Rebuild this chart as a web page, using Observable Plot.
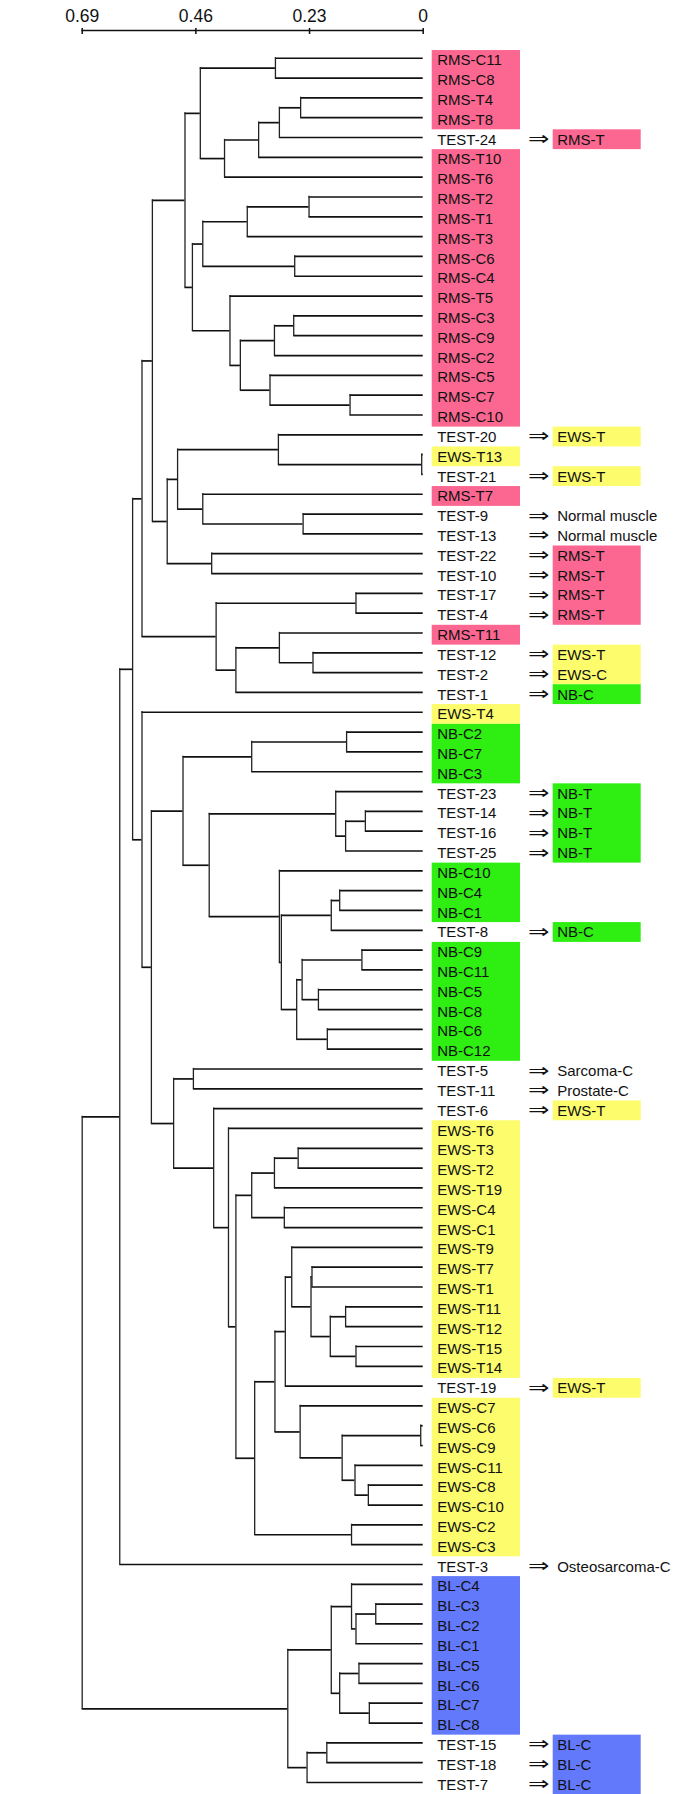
<!DOCTYPE html>
<html><head><meta charset="utf-8">
<script src="https://cdn.jsdelivr.net/npm/d3@7"></script>
<script src="https://cdn.jsdelivr.net/npm/@observablehq/plot@0.6"></script>
<style>html,body{margin:0;padding:0;background:#fff;overflow:hidden}</style>
</head><body><div id="chart"></div>
<script>
// ---- data ----
const leafNames = [
  "RMS-C11","RMS-C8","RMS-T4","RMS-T8","TEST-24","RMS-T10","RMS-T6","RMS-T2","RMS-T1","RMS-T3",
  "RMS-C6","RMS-C4","RMS-T5","RMS-C3","RMS-C9","RMS-C2","RMS-C5","RMS-C7","RMS-C10","TEST-20",
  "EWS-T13","TEST-21","RMS-T7","TEST-9","TEST-13","TEST-22","TEST-10","TEST-17","TEST-4","RMS-T11",
  "TEST-12","TEST-2","TEST-1","EWS-T4","NB-C2","NB-C7","NB-C3","TEST-23","TEST-14","TEST-16",
  "TEST-25","NB-C10","NB-C4","NB-C1","TEST-8","NB-C9","NB-C11","NB-C5","NB-C8","NB-C6",
  "NB-C12","TEST-5","TEST-11","TEST-6","EWS-T6","EWS-T3","EWS-T2","EWS-T19","EWS-C4","EWS-C1",
  "EWS-T9","EWS-T7","EWS-T1","EWS-T11","EWS-T12","EWS-T15","EWS-T14","TEST-19","EWS-C7","EWS-C6",
  "EWS-C9","EWS-C11","EWS-C8","EWS-C10","EWS-C2","EWS-C3","TEST-3","BL-C4","BL-C3","BL-C2",
  "BL-C1","BL-C5","BL-C6","BL-C7","BL-C8","TEST-15","TEST-18","TEST-7"
];
const testPredictions = {
  "TEST-24":"RMS-T","TEST-20":"EWS-T","TEST-21":"EWS-T","TEST-9":"Normal muscle","TEST-13":"Normal muscle",
  "TEST-22":"RMS-T","TEST-10":"RMS-T","TEST-17":"RMS-T","TEST-4":"RMS-T","TEST-12":"EWS-T","TEST-2":"EWS-C",
  "TEST-1":"NB-C","TEST-23":"NB-T","TEST-14":"NB-T","TEST-16":"NB-T","TEST-25":"NB-T","TEST-8":"NB-C",
  "TEST-5":"Sarcoma-C","TEST-11":"Prostate-C","TEST-6":"EWS-T","TEST-19":"EWS-T","TEST-3":"Osteosarcoma-C",
  "TEST-15":"BL-C","TEST-18":"BL-C","TEST-7":"BL-C"
};
// [node, left child, right child, merge height]
const merges = [
  ["A","RMS-C11","RMS-C8",0.299],["B","RMS-T4","RMS-T8",0.248],["C","B","TEST-24",0.291],
  ["D","C","RMS-T10",0.333],["E","D","RMS-T6",0.402],["F","A","E",0.451],
  ["J","RMS-T2","RMS-T1",0.231],["K","J","RMS-T3",0.356],["M","RMS-C6","RMS-C4",0.260],
  ["L","K","M",0.446],["R","RMS-C3","RMS-C9",0.262],["Q","R","RMS-C2",0.301],
  ["T","RMS-C7","RMS-C10",0.148],["S","RMS-C5","T",0.310],["P","Q","S",0.370],
  ["O","RMS-T5","P",0.391],["N","L","O",0.467],["G","F","N",0.482],
  ["U","EWS-T13","TEST-21",0.003],["V","TEST-20","U",0.293],["Y","TEST-9","TEST-13",0.243],
  ["Z","RMS-T7","Y",0.446],["W","V","Z",0.497],["AA","TEST-22","TEST-10",0.428],
  ["X1","W","AA",0.518],["H","G","X1",0.548],["AB","TEST-17","TEST-4",0.136],
  ["AC","TEST-12","TEST-2",0.223],["AD","RMS-T11","AC",0.291],["AE","AD","TEST-1",0.379],
  ["AF","AB","AE",0.419],["I","H","AF",0.569],
  ["AL","NB-C2","NB-C7",0.155],["AM","AL","NB-C3",0.347],["AN","TEST-14","TEST-16",0.117],
  ["AO","AN","TEST-25",0.157],["AP","TEST-23","AO",0.177],["AS","NB-C4","NB-C1",0.169],
  ["AT","AS","TEST-8",0.186],["AV","NB-C9","NB-C11",0.124],["AW","NB-C5","NB-C8",0.212],
  ["AX","AV","AW",0.245],["AY","NB-C6","NB-C12",0.194],["AU","AX","AY",0.256],
  ["AR","AT","AU",0.287],["AQ","NB-C10","AR",0.291],["AZ","AP","AQ",0.433],
  ["AK","AM","AZ",0.486],["BB","TEST-5","TEST-11",0.465],
  ["BH","EWS-T3","EWS-T2",0.253],["BG","BH","EWS-T19",0.301],["BI","EWS-C4","EWS-C1",0.281],
  ["BF","BG","BI",0.347],["BO","EWS-T7","EWS-T1",0.225],["BQ","EWS-T11","EWS-T12",0.157],
  ["BR","EWS-T15","EWS-T14",0.136],["BP","BQ","BR",0.188],["BN","BO","BP",0.227],
  ["BM","EWS-T9","BN",0.266],["BLn","BM","TEST-19",0.279],["BU","EWS-C6","EWS-C9",0.005],
  ["BW","EWS-C8","EWS-C10",0.111],["BV","EWS-C11","BW",0.138],["BT","BU","BV",0.164],
  ["BS","EWS-C7","BT",0.249],["BK","BLn","BS",0.300],["BX","EWS-C2","EWS-C3",0.145],
  ["BJ","BK","BX",0.341],["BE","BF","BJ",0.379],["BD","EWS-T6","BE",0.394],
  ["BC","TEST-6","BD",0.424],["BA","BB","BC",0.505],["AJ","AK","BA",0.550],
  ["AI","EWS-T4","AJ",0.569],["AG","I","AI",0.588],["AH","AG","TEST-3",0.614],
  ["CA","BL-C3","BL-C2",0.096],["CB","CA","BL-C1",0.136],["CC","BL-C4","CB",0.145],
  ["CF","BL-C5","BL-C6",0.130],["CG","BL-C7","BL-C8",0.109],["CE","CF","CG",0.169],
  ["CD","CC","CE",0.186],["CJ","TEST-15","TEST-18",0.195],["CI","CJ","TEST-7",0.235],
  ["CH","CD","CI",0.274],["root","AH","CH",0.69]
];
const axisTicks = [0.69, 0.46, 0.23, 0];
const axisTickLabels = ["0.69", "0.46", "0.23", "0"];
const groupColors = {RMS: "#fb6790", EWS: "#fcfc6c", NB: "#2eee12", BL: "#6379fb"};

// ---- build tree geometry (in data units) ----
const pos = new Map();
leafNames.forEach((n, i) => pos.set(n, {y: i, h: 0}));
const hSegs = [], vSegs = [];
for (const [id, a, b, h] of merges) {
  const A = pos.get(a), B = pos.get(b);
  hSegs.push({y: A.y, x1: A.h, x2: h}, {y: B.y, x1: B.h, x2: h});
  vSegs.push({x: h, y1: A.y, y2: B.y});
  pos.set(id, {y: (A.y + B.y) / 2, h});
}
const groupOf = s => { const g = s.split("-")[0]; return groupColors[g] ? g : null; };
const leaves = leafNames.map((name, i) => ({name, i, g: groupOf(name), pred: testPredictions[name] || null}));
const preds = leaves.filter(d => d.pred).map(d => ({...d, pg: groupOf(d.pred)}));
function runs(rows, key) {
  const out = [];
  for (const r of rows) {
    const g = r[key];
    if (!g) continue;
    const last = out[out.length - 1];
    if (last && last.g === g && last.end === r.i - 1) last.end = r.i;
    else out.push({g, start: r.i, end: r.i});
  }
  return out;
}
const leafRuns = runs(leaves, "g");
const predRuns = runs(preds, "pg");
const tickLabel = new Map(axisTicks.map((t, i) => [t, axisTickLabels[i]]));

const font = "'Liberation Sans', Arial, Helvetica, sans-serif";
const chart = Plot.plot({
  width: 685, height: 1794,
  marginTop: 30, marginBottom: 12, marginLeft: 81.7, marginRight: 262.3,
  x: {domain: [0.69, 0], axis: null},
  y: {domain: [-1.4, 87], reverse: true, axis: null},
  color: {type: "identity"},
  style: {fontFamily: font, background: "#fff"},
  marks: [
    Plot.frame({anchor: "top", stroke: "#111", strokeWidth: 1.5}),
    Plot.axisX(axisTicks, {anchor: "top", tickSize: 6, dy: 3, tickFormat: () => "", stroke: "#111", strokeWidth: 1.5}),
    Plot.axisX(axisTicks, {anchor: "top", tickSize: 0, tickPadding: 9, fontSize: 17.5, fill: "#111", tickFormat: d => tickLabel.get(d)}),
    Plot.rect(leafRuns, {x1: 0, x2: 0, y1: d => d.start - 0.5, y2: d => d.end + 0.5, insetLeft: 9, insetRight: -97.3, dy: 2.2, fill: d => groupColors[d.g]}),
    Plot.rect(predRuns, {x1: 0, x2: 0, y1: d => d.start - 0.5, y2: d => d.end + 0.5, insetLeft: 130, insetRight: -218, dy: 2.2, fill: d => groupColors[d.g]}),
    Plot.ruleY(hSegs, {y: "y", x1: "x1", x2: "x2", stroke: "#111", strokeWidth: 1.7}),
    Plot.ruleX(vSegs, {x: "x", y1: "y1", y2: "y2", stroke: "#222", strokeWidth: 1.3, strokeLinecap: "square"}),
    Plot.text(leaves, {x: 0, y: "i", text: "name", dx: 14, dy: 2.3, textAnchor: "start", lineAnchor: "middle", fontSize: 15, fill: "#111"}),
    Plot.text(preds, {x: 0, y: "i", text: () => "⇒", dx: 115.5, dy: 1.5, textAnchor: "middle", lineAnchor: "middle", fontSize: 19, fontFamily: "'DejaVu Sans', sans-serif", fill: "#111"}),
    Plot.text(preds, {x: 0, y: "i", text: "pred", dx: 134, dy: 2.3, textAnchor: "start", lineAnchor: "middle", fontSize: 15, fill: "#111"})
  ]
});
document.getElementById("chart").appendChild(chart);
// widen the double arrows horizontally (about their own anchor point), as in the reference
for (const t of chart.querySelectorAll("text")) {
  if (t.textContent !== "⇒") continue;
  const tr = t.getAttribute("transform");
  if (tr) {
    t.setAttribute("transform", tr + " scale(1.35,1)");
  } else {
    const x = +t.getAttribute("x") || 0, y = +t.getAttribute("y") || 0;
    t.setAttribute("transform", `translate(${x},${y}) scale(1.35,1) translate(${-x},${-y})`);
  }
}
</script>
</body></html>
